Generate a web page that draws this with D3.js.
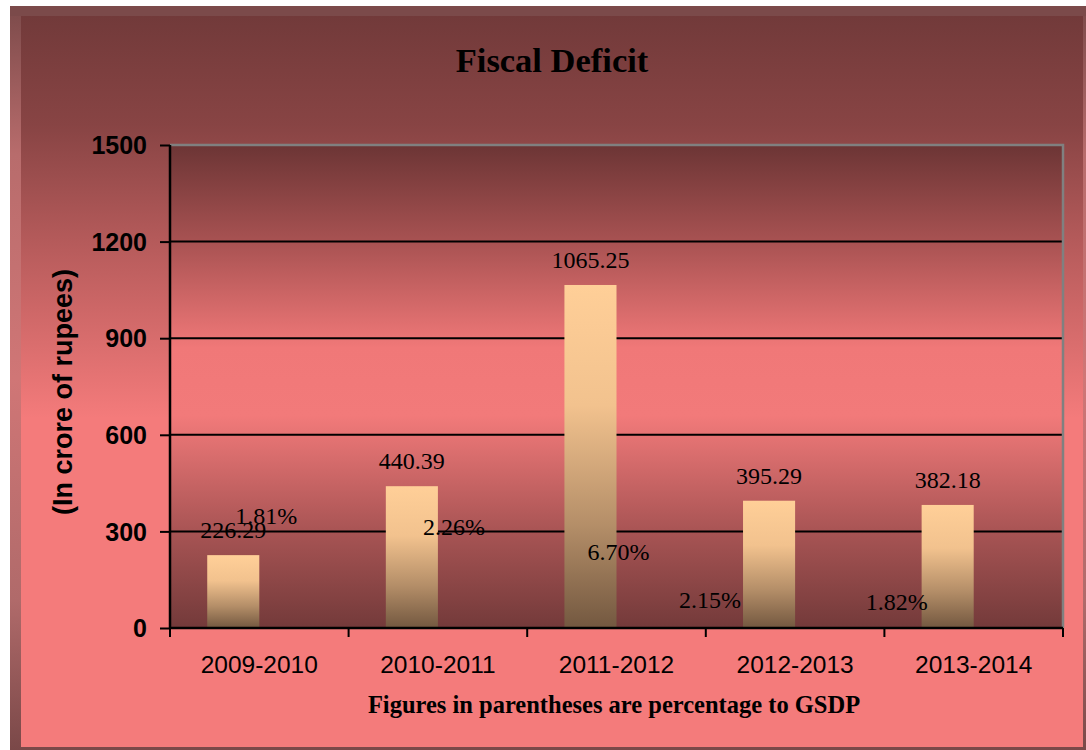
<!DOCTYPE html>
<html>
<head>
<meta charset="utf-8">
<script src="https://cdn.jsdelivr.net/npm/d3@7"></script>
<style>
body { margin:0; background:#fff; }
svg { display:block; }
</style>
</head>
<body>
<svg width="1086" height="750"></svg>
<script>
// data
var years = ["2009-2010","2010-2011","2011-2012","2012-2013","2013-2014"];
var deficit = [226.29, 440.39, 1065.25, 395.29, 382.18];
var pctGSDP = ["1.81%","2.26%","6.70%","2.15%","1.82%"];
var yTicks = [0,300,600,900,1200,1500];
// where the % labels were dragged to: [shift from band centre in px, height on the value axis]
var pctNudge = [[7,323],[16,289],[2,211],[-85,62],[-77,56]];

var svg = d3.select("svg"),
  width = +svg.attr("width"),
  height = +svg.attr("height");

var sans = "'Liberation Sans', Arial, sans-serif",
  serif = "'Liberation Serif', 'Times New Roman', serif";

var defs = svg.append("defs");

function vgrad(id, stops){
  var g = defs.append("linearGradient").attr("id", id)
    .attr("x1",0).attr("y1",0).attr("x2",0).attr("y2",1);
  stops.forEach(function(s){
    g.append("stop").attr("offset", s[0]).attr("stop-color", s[1]);
  });
}
vgrad("frame", [[0,"#7c4a4a"],[0.2,"#b86c6c"],[0.5,"#d07676"],[0.8,"#b06a6a"],[1,"#7a4848"]]);
vgrad("bg", [[0,"#723a3a"],[0.15,"#884444"],[0.32,"#b85c5c"],[0.55,"#f47b7b"],[1,"#f47b7b"]]);
vgrad("plotbg", [[0,"#6c3535"],[0.2,"#a85252"],[0.42,"#f07878"],[0.56,"#f27a7a"],[0.8,"#a85454"],[1,"#733a3a"]]);
vgrad("bar", [[0,"#ffcf98"],[0.35,"#f2c28e"],[0.7,"#b48e68"],[1,"#735840"]]);

// outer frame + chart background
svg.append("rect").attr("x",10).attr("y",6).attr("width",width-10).attr("height",height-6)
  .attr("fill","url(#frame)");
svg.append("rect").attr("x",21).attr("y",16).attr("width",1062).attr("height",731)
  .attr("fill","url(#bg)");
svg.append("rect").attr("x",10).attr("y",6).attr("width",width-10).attr("height",10)
  .attr("fill","#7b4a4a");

var pL = 170, pR = 1063, pT = 145, pB = 628;

var x = d3.scaleBand().domain(years).range([pL, pR]).padding(0);
var y = d3.scaleLinear().domain([0,1500]).range([pB, pT]);

// plot area
svg.append("rect").attr("x",pL).attr("y",pT).attr("width",pR-pL).attr("height",pB-pT)
  .attr("fill","url(#plotbg)");

// gridlines
svg.append("g").selectAll("line")
  .data(yTicks.filter(function(d){ return d>0 && d<1500; }))
  .enter().append("line")
    .attr("x1",pL).attr("x2",pR)
    .attr("y1",function(d){ return y(d); }).attr("y2",function(d){ return y(d); })
    .attr("stroke","#000").attr("stroke-width",2);

// grey border top + right
svg.append("path")
  .attr("d","M"+pL+","+y(1500)+"H"+pR+"V"+pB)
  .attr("fill","none").attr("stroke","#808080").attr("stroke-width",2.5);

// bars (second series is the % one, too small to show)
var gap = 1.43;
var barW = x.bandwidth()/(2+gap);
svg.append("g").selectAll("rect")
  .data(deficit)
  .enter().append("rect")
    .attr("x",function(d,i){ return x(years[i]) + x.bandwidth()/2 - barW; })
    .attr("y",function(d){ return y(d); })
    .attr("width",barW)
    .attr("height",function(d){ return y(0)-y(d); })
    .attr("fill","url(#bar)");

// y axis
var yAxis = svg.append("g")
  .attr("transform","translate("+pL+",0)")
  .call(d3.axisLeft(y).tickValues(yTicks).tickSize(10).tickPadding(13).tickFormat(d3.format("d")));
yAxis.select(".domain").attr("stroke","#000").attr("stroke-width",2.5).attr("d","M0,"+pT+"V"+pB);
yAxis.selectAll(".tick line").attr("stroke","#000").attr("stroke-width",2);
yAxis.selectAll(".tick text").attr("font-family",sans).attr("font-weight","bold")
  .attr("font-size",25).attr("fill","#000").attr("dy","0.35em");

// x axis: ticks at band edges, labels at band centres
svg.append("line").attr("x1",pL).attr("x2",pR).attr("y1",pB).attr("y2",pB)
  .attr("stroke","#000").attr("stroke-width",2.5);
var edges = years.map(function(d){ return x(d); }).concat([pR]);
svg.append("g").selectAll("line")
  .data(edges)
  .enter().append("line")
    .attr("x1",function(d){ return d; }).attr("x2",function(d){ return d; })
    .attr("y1",pB).attr("y2",pB+9)
    .attr("stroke","#000").attr("stroke-width",2);
svg.append("g").selectAll("text")
  .data(years)
  .enter().append("text")
    .attr("x",function(d){ return x(d)+x.bandwidth()/2; })
    .attr("y",673)
    .attr("text-anchor","middle")
    .attr("font-family",sans).attr("font-size",24.5).attr("fill","#000")
    .text(function(d){ return d; });

// value labels
svg.append("g").selectAll("text")
  .data(deficit)
  .enter().append("text")
    .attr("x",function(d,i){ return x(years[i]) + x.bandwidth()/2 - barW/2; })
    .attr("y",function(d){ return y(d)-17; })
    .attr("text-anchor","middle")
    .attr("font-family",serif).attr("font-size",24).attr("fill","#000")
    .text(function(d){ return d3.format(".2f")(d); });

// % of GSDP labels
svg.append("g").selectAll("text")
  .data(pctGSDP)
  .enter().append("text")
    .attr("x",function(d,i){ return x(years[i]) + x.bandwidth()/2 + pctNudge[i][0]; })
    .attr("y",function(d,i){ return y(pctNudge[i][1]); })
    .attr("text-anchor","middle")
    .attr("font-family",serif).attr("font-size",24).attr("fill","#000")
    .text(function(d){ return d; });

// titles
svg.append("text").attr("x",552).attr("y",72).attr("text-anchor","middle")
  .attr("font-family",serif).attr("font-weight","bold").attr("font-size",34.5)
  .text("Fiscal Deficit");

svg.append("text").attr("transform","translate(72,392) rotate(-90)").attr("text-anchor","middle")
  .attr("font-family",sans).attr("font-weight","bold").attr("font-size",27)
  .text("(In crore of rupees)");

svg.append("text").attr("x",614).attr("y",713).attr("text-anchor","middle")
  .attr("font-family",serif).attr("font-weight","bold").attr("font-size",24.5)
  .text("Figures in parentheses are percentage to GSDP");
</script>
</body>
</html>
